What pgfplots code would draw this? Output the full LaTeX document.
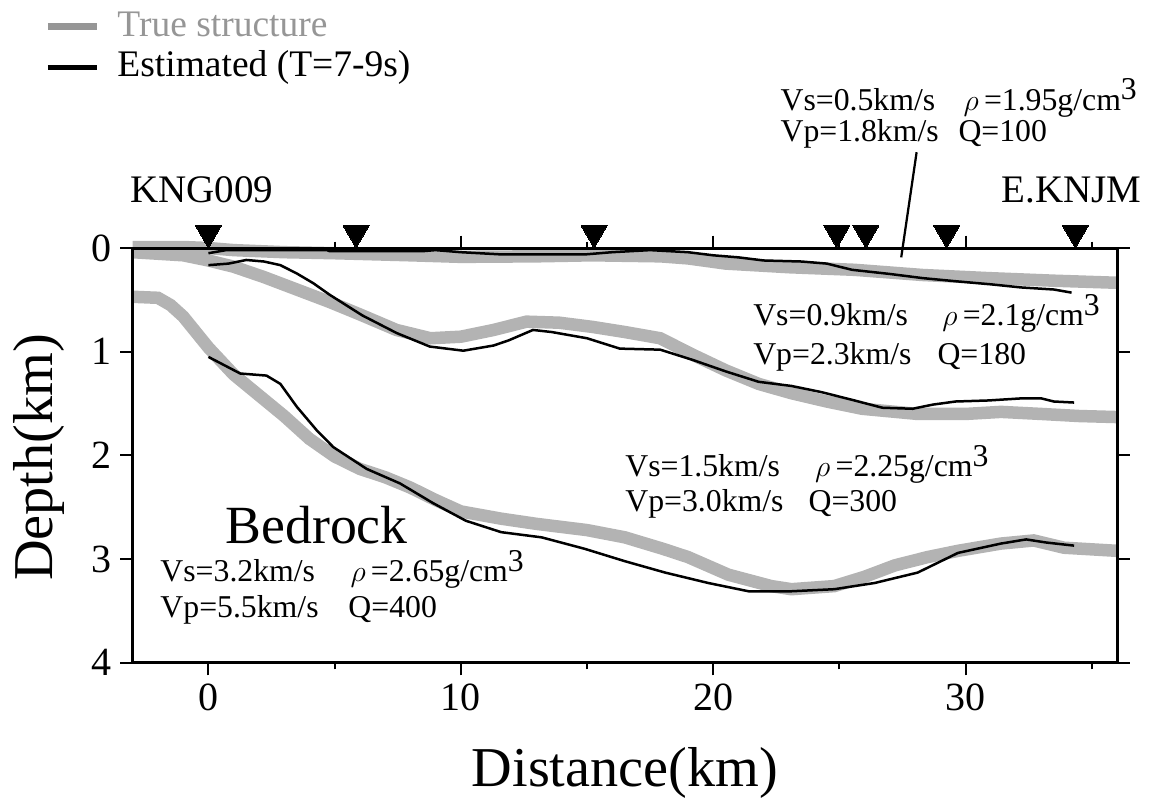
\documentclass[border=0pt]{standalone}
\usepackage{fontspec}
\setmainfont{Liberation Serif}
\usepackage{pgfplots}
\pgfplotsset{compat=1.18}
\definecolor{truegray}{RGB}{179,179,179}
\definecolor{leggray}{RGB}{150,150,150}
\newcommand\af{\fontsize{12.7}{15}\selectfont}
\newcommand\cubed{\raisebox{0.32em}{3}}
\begin{document}
\begin{tikzpicture}
\begin{axis}[
  scale only axis, width=393.7pt, height=165.9pt,
  xmin=-3, xmax=36, ymin=0, ymax=4, y dir=reverse,
  clip=false, axis on top,
  axis line style={line width=1.2pt},
  xtick={0,10,20,30}, minor xtick={5,15,25,35},
  ytick={0,1,2,3,4},
  tick align=outside,
  major tick length=5pt, minor tick length=2.6pt,
  every tick/.style={black, line width=0.8pt},
  /pgf/number format/assume math mode=true,
  ticklabel style={font=\fontsize{16}{19}\selectfont},
  xlabel={Distance(km)}, ylabel={Depth(km)},
  xlabel style={font=\fontsize{22.5}{26}\selectfont, at={(axis description cs:0.5,-0.299)}, anchor=base},
  ylabel style={font=\fontsize{22.5}{26}\selectfont, at={(axis description cs:-0.081,0.495)}, anchor=base},
]
\path (axis description cs:-0.13482,1.59802) rectangle (axis description cs:1.03658,-0.32626);
% true structure
\addplot[truegray, line width=5pt, forget plot] coordinates {
(-3,-0.01) (-1,-0.01) (0,0.0) (1,0.02) (3,0.04) (5,0.05) (8,0.07) (10,0.085) (13,0.08) (15.2,0.07) (17.9,0.08) (19,0.1) (20.5,0.15) (23,0.185) (25.6,0.21) (28.3,0.26) (30.9,0.29) (33.5,0.315) (36,0.335)};
\addplot[truegray, line width=5pt, forget plot] coordinates {
(-3,0.04) (-1,0.07) (0,0.12) (1,0.18) (2.2,0.28) (3.5,0.4) (4.8,0.52) (6,0.64) (7.45,0.79) (8.8,0.87) (10,0.855) (11.3,0.79) (12.6,0.71) (13.9,0.72) (15.2,0.76) (16.5,0.81) (17.9,0.87) (19.2,1.03) (20.5,1.18) (21.8,1.31) (23.1,1.4) (24.5,1.48) (25.9,1.55) (28.1,1.6) (30,1.6) (31.4,1.58) (33,1.6) (34.5,1.62) (36,1.63)};
\addplot[truegray, line width=5pt, forget plot] coordinates {
(-3,0.47) (-2,0.48) (-1.5,0.55) (-1,0.66) (0,0.96) (1,1.22) (2,1.42) (3,1.62) (4,1.84) (5,2.01) (6,2.13) (7,2.21) (8,2.31) (9,2.43) (10,2.54) (11.6,2.61) (13,2.66) (15,2.72) (16.5,2.79) (18,2.9) (19,2.98) (20.6,3.15) (22.3,3.26) (23.1,3.29) (24.8,3.26) (26,3.17) (27.2,3.06) (28.5,2.98) (29.7,2.92) (31.4,2.85) (32.7,2.82) (33.9,2.89) (36,2.92)};
% estimated
\addplot[black, line width=1pt, forget plot] coordinates {
(0,0.05) (0.7,0.02) (4.7,0.02) (4.8,0.03) (8.5,0.03) (9,0.02) (10,0.04) (11.5,0.06) (15,0.06) (16,0.04) (17.5,0.02) (19,0.04) (20,0.07) (21,0.09) (22,0.12) (23.5,0.13) (24.5,0.15) (25.5,0.21) (27,0.25) (28.3,0.29) (29.6,0.32) (31,0.35) (32.2,0.38) (33.5,0.40) (34.2,0.43)};
\addplot[black, line width=1pt, forget plot] coordinates {
(0.0,0.165) (0.8,0.15) (1.5,0.115) (2.2,0.13) (2.85,0.165) (3.5,0.245) (4.16,0.34) (4.8,0.45) (6.1,0.65) (7.46,0.82) (8.77,0.95) (10.1,0.99) (11.3,0.94) (11.9,0.89) (12.86,0.79) (13.6,0.81) (15.0,0.87) (16.3,0.97) (17.9,0.98) (19.2,1.08) (20.5,1.19) (21.8,1.29) (23.1,1.33) (24.3,1.39) (25.6,1.47) (26.7,1.54) (27.9,1.55) (28.7,1.51) (29.6,1.48) (30.9,1.47) (32.2,1.45) (33.0,1.45) (33.5,1.48) (34.3,1.49)};
\addplot[black, line width=1pt, forget plot] coordinates {
(0.0,1.05) (1.26,1.21) (2.3,1.23) (2.85,1.31) (3.5,1.53) (4.3,1.76) (4.95,1.92) (6.27,2.13) (7.59,2.27) (8.9,2.46) (10.2,2.63) (11.6,2.74) (13.2,2.79) (14.9,2.9) (16.5,3.02) (18.1,3.13) (19.8,3.23) (21.4,3.31) (23.1,3.31) (24.8,3.29) (26.4,3.23) (28.1,3.13) (29.7,2.94) (31.4,2.85) (32.4,2.81) (33.2,2.84) (34.3,2.87)};
% stations
\addplot[only marks, mark=triangle*, mark size=6pt, mark options={rotate=180, fill=black, draw=black, line width=0pt}, forget plot] coordinates {
(0,-0.145) (5.85,-0.145) (15.28,-0.145) (24.9,-0.145) (26.05,-0.145) (29.25,-0.145) (34.35,-0.145)};
\node[anchor=base, inner sep=0pt, font=\fontsize{15.6}{18}\selectfont] at (axis cs:-0.27,-0.44) {KNG009};
\node[anchor=base, inner sep=0pt, font=\fontsize{15.6}{18}\selectfont] at (axis cs:34.2,-0.44) {E.KNJM};
% legend
\draw[leggray, line width=2.8pt] (axis description cs:-0.0861,1.5336) -- (axis description cs:-0.0363,1.5336);
\node[anchor=base west, inner sep=0pt, text=leggray, font=\fontsize{15}{18}\selectfont] at (axis description cs:-0.0160,1.5095) {True structure};
\draw[black, line width=1.8pt] (axis description cs:-0.0861,1.4352) -- (axis description cs:-0.0363,1.4352);
\node[anchor=base west, inner sep=0pt, font=\fontsize{15}{18}\selectfont] at (axis description cs:-0.0160,1.4131) {Estimated (T=7-9s)};
% annotations
\draw[line width=0.9pt] (axis cs:28.06,-0.924) -- (axis cs:27.45,0.09);
\node[anchor=base west, inner sep=0pt, font=\af] at (axis cs:22.65,-1.331) {Vs=0.5km/s};
\node[anchor=base west, inner sep=0pt, font=\af] at (axis cs:29.9,-1.331) {$\rho$\,=1.95g/cm\cubed};
\node[anchor=base west, inner sep=0pt, font=\af] at (axis cs:22.65,-1.025) {Vp=1.8km/s};
\node[anchor=base west, inner sep=0pt, font=\af] at (axis cs:29.7,-1.025) {Q=100};
\node[anchor=base west, inner sep=0pt, font=\af] at (axis cs:21.57,0.75) {Vs=0.9km/s};
\node[anchor=base west, inner sep=0pt, font=\af] at (axis cs:29.06,0.75) {$\rho$\,=2.1g/cm\cubed};
\node[anchor=base west, inner sep=0pt, font=\af] at (axis cs:21.57,1.125) {Vp=2.3km/s};
\node[anchor=base west, inner sep=0pt, font=\af] at (axis cs:28.87,1.125) {Q=180};
\node[anchor=base west, inner sep=0pt, font=\af] at (axis cs:16.5,2.203) {Vs=1.5km/s};
\node[anchor=base west, inner sep=0pt, font=\af] at (axis cs:24.02,2.203) {$\rho$\,=2.25g/cm\cubed};
\node[anchor=base west, inner sep=0pt, font=\af] at (axis cs:16.5,2.545) {Vp=3.0km/s};
\node[anchor=base west, inner sep=0pt, font=\af] at (axis cs:23.76,2.545) {Q=300};
\node[anchor=base west, inner sep=0pt, font=\fontsize{21.5}{25}\selectfont] at (axis cs:0.66,2.846) {Bedrock};
\node[anchor=base west, inner sep=0pt, font=\af] at (axis cs:-1.92,3.213) {Vs=3.2km/s};
\node[anchor=base west, inner sep=0pt, font=\af] at (axis cs:5.61,3.213) {$\rho$\,=2.65g/cm\cubed};
\node[anchor=base west, inner sep=0pt, font=\af] at (axis cs:-1.92,3.56) {Vp=5.5km/s};
\node[anchor=base west, inner sep=0pt, font=\af] at (axis cs:5.53,3.56) {Q=400};
\end{axis}
\end{tikzpicture}
\end{document}
